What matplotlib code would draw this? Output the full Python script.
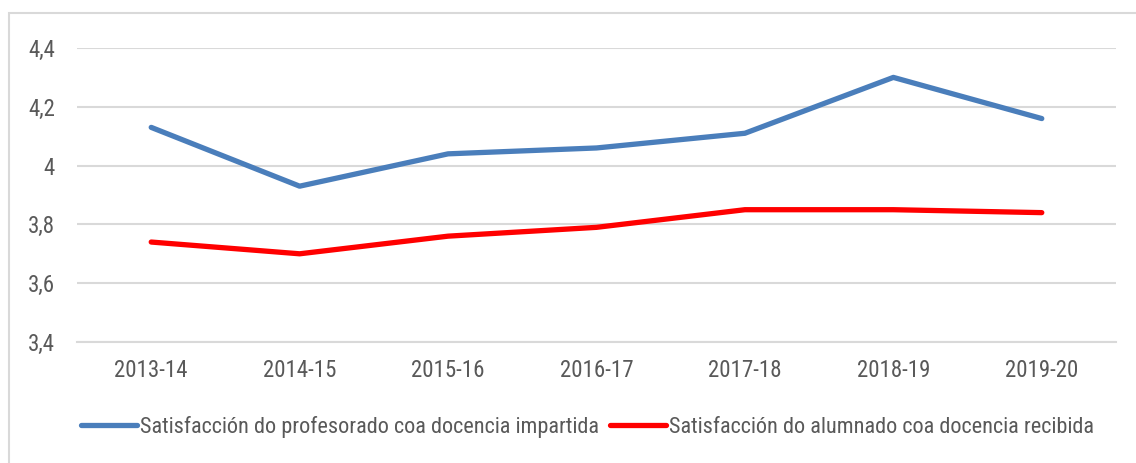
import matplotlib
matplotlib.use("Agg")
import matplotlib.pyplot as plt
from matplotlib import font_manager
from matplotlib.patches import Rectangle

names = {f.name for f in font_manager.fontManager.ttflist}
fam = [n for n in ["Liberation Sans Narrow", "Arial Narrow", "Roboto Condensed", "Liberation Sans"] if n in names] + ["DejaVu Sans"]
plt.rcParams['font.family'] = fam

categories = ["2013-14", "2014-15", "2015-16", "2016-17", "2017-18", "2018-19", "2019-20"]
profesorado = [4.13, 3.93, 4.04, 4.06, 4.11, 4.30, 4.16]
alumnado = [3.74, 3.70, 3.76, 3.79, 3.85, 3.85, 3.84]
label_prof = "Satisfacción do profesorado coa docencia impartida"
label_alum = "Satisfacción do alumnado coa docencia recibida"
yticks = [3.4, 3.6, 3.8, 4.0, 4.2, 4.4]
yticklabels = ["3,4", "3,6", "3,8", "4", "4,2", "4,4"]

W, H = 1136, 463
fig = plt.figure(figsize=(W / 100, H / 100), dpi=100)
fig.patches.append(Rectangle((9 / W, -0.1), 1.2, 1 - 13 / H + 0.1, transform=fig.transFigure,
                             fill=False, edgecolor="#D9D9D9", linewidth=1.5))

ax = fig.add_axes([77 / W, 1 - 342 / H, (1116 - 77) / W, (342 - 48) / H])
x = list(range(len(categories)))
ax.plot(x, profesorado, color="#4A7EBB", linewidth=3.8, solid_capstyle="round", label=label_prof)
ax.plot(x, alumnado, color="#FF0000", linewidth=3.8, solid_capstyle="round", label=label_alum)
ax.set_xlim(-0.5, len(categories) - 0.5)
ax.set_ylim(3.4, 4.4)
ax.set_yticks(yticks)
ax.set_yticklabels(yticklabels)
ax.set_xticks(x)
ax.set_xticklabels(categories)
ax.grid(axis="y", color="#D9D9D9", linewidth=1.5)
ax.set_axisbelow(True)
for s in ["top", "right", "left"]:
    ax.spines[s].set_visible(False)
ax.spines["bottom"].set_color("#D9D9D9")
ax.spines["bottom"].set_linewidth(1.5)
ax.tick_params(axis="both", length=0, labelsize=16.5, labelcolor="#595959")
ax.tick_params(axis="x", pad=12)
ax.tick_params(axis="y", pad=16)

leg = ax.legend(loc="center", bbox_to_anchor=(0.5 * (82 + 1115) / W - 11 / W, 1 - 427 / H),
                bbox_transform=fig.transFigure, ncol=2, frameon=False, fontsize=16,
                handlelength=2.5, handletextpad=0.15, columnspacing=0.5, borderpad=0)
for t in leg.get_texts():
    t.set_color("#595959")

fig.savefig("out.png", dpi=100, facecolor="white")
